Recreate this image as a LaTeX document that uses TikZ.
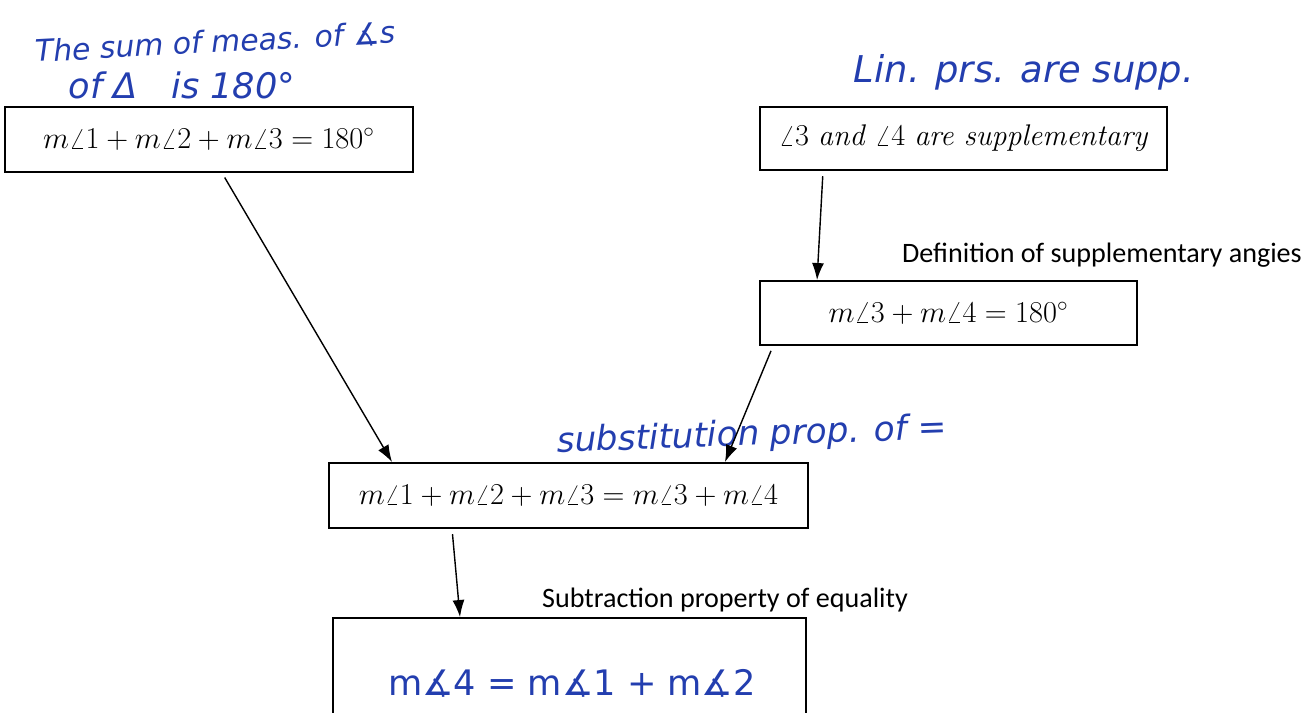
\documentclass[tikz,border=0pt]{standalone}
\usepackage{amsmath}
\usepackage{fontspec}
\usepackage{tikz}
\usetikzlibrary{arrows.meta}
\newfontfamily\labelfont{Carlito}
\newfontfamily\handfont{DejaVu Sans}
\definecolor{handblue}{RGB}{35,62,175}

\begin{document}
\begin{tikzpicture}[x=0.02cm,y=-0.02cm,>={Latex[length=3.4mm,width=2.4mm]},
    stepbox/.style={draw,line width=1.1pt,inner sep=0pt,font=\fontsize{17}{20}\selectfont},
    reason/.style={font=\labelfont\fontsize{16}{19}\selectfont},
    hand/.style={text=handblue,font=\handfont\itshape\fontsize{17}{20}\selectfont},
    link/.style={->,line width=0.8pt,shorten <=3pt}]
            \clip (0,0) rectangle (1306,713);
            \fill[white] (0,0) rectangle (1306,713);
            % proof boxes
            \node[stepbox,minimum width=8.16cm,minimum height=1.3cm] (sum) at (209,139.5) {$m\angle 1+m\angle 2+m\angle 3=180^\circ$};
            \node[stepbox,minimum width=8.14cm,minimum height=1.26cm] (supp) at (963.5,138.5) {$\angle 3$ \textit{and} $\angle 4$ \textit{are supplementary}};
            \node[stepbox,minimum width=7.54cm,minimum height=1.28cm] (def) at (948.5,313) {$m\angle 3+m\angle 4=180^\circ$};
            \node[stepbox,minimum width=9.58cm,minimum height=1.3cm,font=\fontsize{16.3}{19}\selectfont] (subst) at (568.5,495.5) {$m\angle 1+m\angle 2+m\angle 3=m\angle 3+m\angle 4$};
            \node[stepbox,minimum width=9.46cm,minimum height=3.24cm] (last) at (569.5,699) {};
            % reasons
            \node[reason] (rdef) at (1102,255) {Definition of supplementary angies};
            \node[reason] (rsub) at (725,600) {Subtraction property of equality};
            \node[hand,rotate=3] (hsum) at (215,42) {The sum of meas. of ∡s};
            \node[hand,font=\handfont\itshape\fontsize{20}{24}\selectfont] (htri) at (182,85) {of Δ \ \ is 180°};
            \node[hand,font=\handfont\itshape\fontsize{21}{25}\selectfont] (hlin) at (1024,72) {Lin. prs. are supp.};
            \node[hand,rotate=2,font=\handfont\itshape\fontsize{19.5}{23}\selectfont] (hsubst) at (752,436) {substitution prop. of =};
            \node[hand,font=\handfont\fontsize{20}{24}\selectfont] (hlast) at (572,683) {m∡4 = m∡1 + m∡2};
            % arrows
            \draw[link] ([xshift=0.26cm]sum.south) -- ([xshift=-3.53cm]subst.north);
            \draw[link] ([xshift=-2.81cm]supp.south) -- ([xshift=-2.63cm]def.north);
            \draw[link] ([xshift=-3.51cm]def.south) -- ([xshift=3.13cm]subst.north);
            \draw[link] ([xshift=-2.33cm]subst.south) -- ([xshift=-2.19cm]last.north);
        \end{tikzpicture}
\end{document}
